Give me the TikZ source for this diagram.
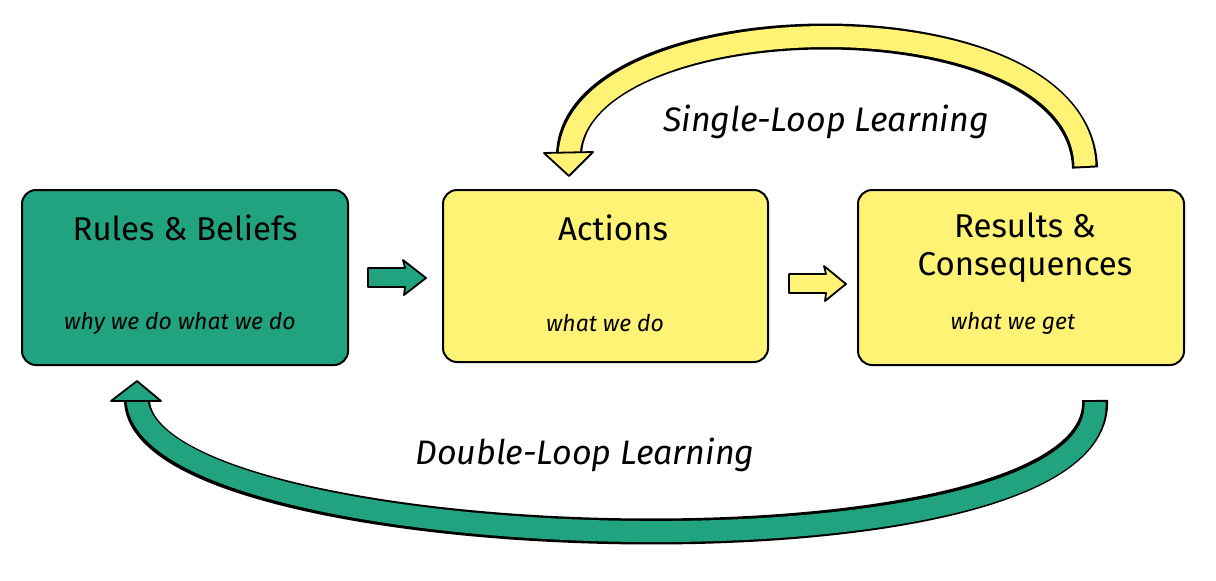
\documentclass[tikz,border=0pt]{standalone}
\usepackage{fontspec}
\setmainfont{Fira Sans}
\definecolor{grn}{HTML}{21A37F}
\definecolor{ylw}{HTML}{FFF376}
\begin{document}
\begin{tikzpicture}[x=1pt,y=-1pt,
 box/.style={draw=black,line width=2pt,rounded corners=14pt},
 ttl/.style={font=\fontsize{33}{38}\selectfont,align=center},
 sub/.style={font=\itshape\fontsize{23}{26}\selectfont},
 lbl/.style={font=\itshape\fontsize{34}{38}\selectfont}]
\useasboundingbox (0,0) rectangle (1216,581);
% boxes
\draw[box,fill=grn] (22,190) rectangle (348,365);
\draw[box,fill=ylw] (443,190) rectangle (768,362);
\draw[box,fill=ylw] (858,190) rectangle (1184,365);
\node[ttl] (rb) at (185,228) {Rules \& Beliefs};
\node[sub] (rbs) at (180,323) {why we do what we do};
\node[ttl] (ac) at (613,228) {Actions};
\node[sub] (acs) at (605,323) {what we do};
\node[ttl] (rc) at (1025,248) {Results \&\\Consequences};
\node[sub] (rcs) at (1013,323) {what we get};
% small block arrows
\draw[line width=1.8pt,fill=grn,line join=round] (368,268)--(405,268)--(403,260)--(426,278)--(404,295)--(405,287)--(368,287)--cycle;
\draw[line width=1.8pt,fill=ylw,line join=round] (789,274)--(826,274)--(824,266)--(846,284)--(825,301)--(826,293)--(789,293)--cycle;
% single loop
\draw[line width=26pt,line cap=butt] (1085,168) .. controls (1080,-10) and (575,0) .. (569,154);
\draw[line width=21pt,ylw,line cap=butt] (1085,166) .. controls (1080,-10) and (575,0) .. (569,156);
\draw[line width=1.8pt,fill=ylw,line join=round] (544,153)--(569,176)--(593,152)--cycle;
\node[lbl] (sl) at (826,122) {Single-Loop Learning};
% double loop
\draw[line width=26pt,line cap=butt] (1095,400) .. controls (1105,590) and (140,560) .. (137,400);
\draw[line width=21pt,grn,line cap=butt] (1095,402) .. controls (1105,590) and (140,560) .. (137,398);
\draw[line width=1.8pt,fill=grn,line join=round] (111,401)--(137,381)--(161,401)--cycle;
\node[lbl] (dl) at (585,455) {Double-Loop Learning};
\end{tikzpicture}
\end{document}
